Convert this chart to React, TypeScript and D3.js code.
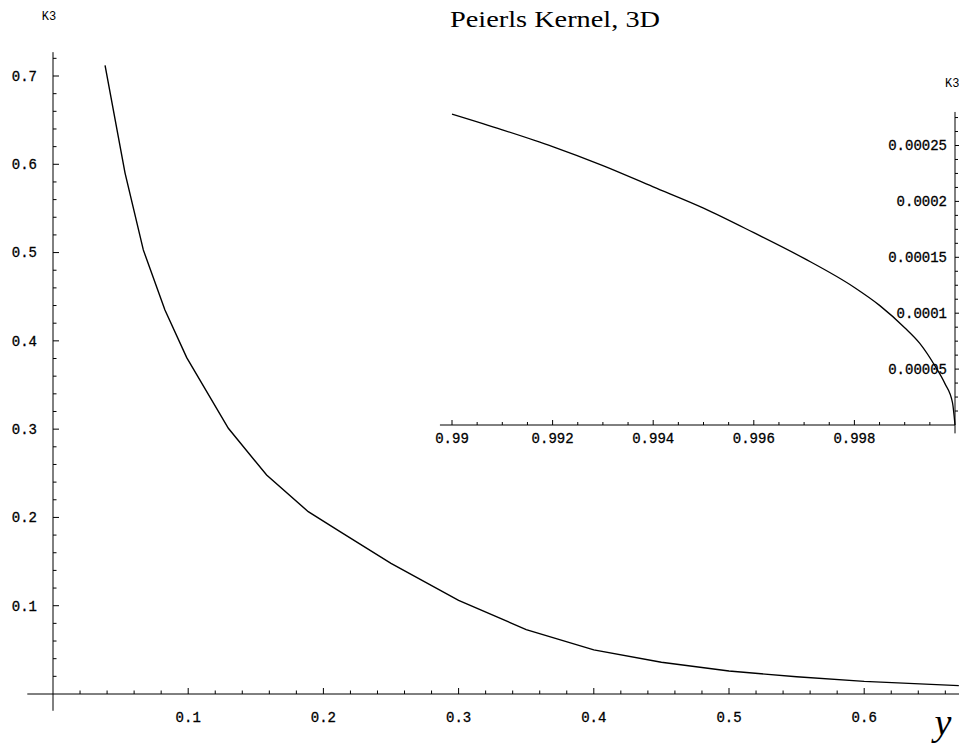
import React from 'react'
import * as d3 from 'd3'

// main curve, K3 against y
const mainY = [0.0385, 0.0533, 0.0668, 0.0828, 0.0989, 0.1297, 0.158, 0.1888, 0.2123, 0.25, 0.3, 0.35, 0.4, 0.45, 0.5, 0.55, 0.6, 0.67]
const mainK = [0.712, 0.59, 0.503, 0.435, 0.381, 0.301, 0.248, 0.2065, 0.184, 0.148, 0.106, 0.073, 0.05, 0.036, 0.026, 0.0195, 0.0143, 0.0095]

// inset near y = 1
const insetY = [0.99, 0.991, 0.992, 0.993, 0.994, 0.995, 0.996, 0.997, 0.998, 0.9985, 0.999, 0.9993, 0.9996, 0.9998, 0.99995, 1.0]
const insetK = [0.000278, 0.000264, 0.000249, 0.000232, 0.000213, 0.000194, 0.000172, 0.000149, 0.000123, 0.000107, 0.000087, 0.000073, 0.000053, 0.000037, 0.00002, 0]

const mainXTicks = [0.1, 0.2, 0.3, 0.4, 0.5, 0.6]
const mainXLabels = ['0.1', '0.2', '0.3', '0.4', '0.5', '0.6']
const mainYTicks = [0.1, 0.2, 0.3, 0.4, 0.5, 0.6, 0.7]
const mainYLabels = ['0.1', '0.2', '0.3', '0.4', '0.5', '0.6', '0.7']
const insetXTicks = [0.99, 0.992, 0.994, 0.996, 0.998]
const insetXLabels = ['0.99', '0.992', '0.994', '0.996', '0.998']
const insetYTicks = [0.00005, 0.0001, 0.00015, 0.0002, 0.00025]
const insetYLabels = ['0.00005', '0.0001', '0.00015', '0.0002', '0.00025']

const W = 959
const H = 746
const mono = "'Liberation Mono', monospace"
const serif = "'Liberation Serif', 'Times New Roman', serif"

export default function App() {
  // main plot scales
  const x = d3.scaleLinear().domain([0, 0.7]).range([53, 999.4])
  const y = d3.scaleLinear().domain([0, 0.7]).range([694, 76])
  // inset scales
  const ix = d3.scaleLinear().domain([0.99, 1.0]).range([452, 955])
  const iy = d3.scaleLinear().domain([0, 0.00025]).range([425, 145.5])

  const mainLine = d3.line<number>()
    .x((_, i) => x(mainY[i]))
    .y(d => y(d))
  const insetLine = d3.line<number>()
    .x((_, i) => ix(insetY[i]))
    .y(d => iy(d))
    .curve(d3.curveMonotoneX)

  const xMinor = d3.range(0.02, 0.7, 0.02).filter(v => Math.abs(v * 10 - Math.round(v * 10)) > 1e-6)
  const yMinor = d3.range(0.02, 0.73, 0.02).filter(v => Math.abs(v * 10 - Math.round(v * 10)) > 1e-6)
  const ixMinor = d3.range(0.9905, 1.0, 0.0005).filter(v => Math.abs(v * 500 - Math.round(v * 500)) > 1e-6)
  const iyMinor = d3.range(0.0000125, 0.00028, 0.0000125).filter(v => Math.abs(v * 20000 - Math.round(v * 20000)) > 1e-6)

  return (
    <svg width={W} height={H} style={{ position: 'absolute', left: 0, top: 0, background: '#fff' }}>
      <rect width={W} height={H} fill="#fff" />

      {/* title */}
      <text x={555} y={27} textAnchor="middle" fontFamily={serif} fontSize={24}
        textLength={210} lengthAdjust="spacingAndGlyphs" fill="#000">Peierls Kernel, 3D</text>

      {/* main axes */}
      <g stroke="#000" strokeWidth={1}>
        <line x1={x(-0.019)} x2={W} y1={y(0)} y2={y(0)} />
        <line x1={x(0)} x2={x(0)} y1={y(-0.019)} y2={y(0.727)} />
        {mainXTicks.map(t => <line key={'mx' + t} x1={x(t)} x2={x(t)} y1={y(0)} y2={y(0) - 6} />)}
        {xMinor.map(t => <line key={'mxm' + t} x1={x(t)} x2={x(t)} y1={y(0)} y2={y(0) - 3.5} />)}
        {mainYTicks.map(t => <line key={'my' + t} x1={x(0)} x2={x(0) + 6} y1={y(t)} y2={y(t)} />)}
        {yMinor.map(t => <line key={'mym' + t} x1={x(0)} x2={x(0) + 3.5} y1={y(t)} y2={y(t)} />)}
      </g>
      <g fontFamily={mono} fontSize={14} fill="#000" stroke="#000" strokeWidth={0.3}>
        {mainXTicks.map((t, i) => (
          <text key={'mxl' + t} x={x(t)} y={722} textAnchor="middle">{mainXLabels[i]}</text>
        ))}
        {mainYTicks.map((t, i) => (
          <text key={'myl' + t} x={37} y={y(t)} dy="0.35em" textAnchor="end">{mainYLabels[i]}</text>
        ))}
      </g>
      <text x={49} y={20} textAnchor="middle" fontFamily={mono} fontSize={12} fill="#000">K3</text>
      <text x={943} y={735} textAnchor="middle" fontFamily={serif} fontStyle="italic" fontSize={38} fill="#000">y</text>

      <path d={mainLine(mainK) ?? ''} fill="none" stroke="#000" strokeWidth={1.4} />

      {/* inset */}
      <g stroke="#000" strokeWidth={1}>
        <line x1={ix(0.98976)} x2={ix(1.0)} y1={iy(0)} y2={iy(0)} />
        <line x1={ix(1.0)} x2={ix(1.0)} y1={iy(-0.0000075)} y2={iy(0.00028)} />
        {insetXTicks.map(t => <line key={'ix' + t} x1={ix(t)} x2={ix(t)} y1={iy(0)} y2={iy(0) - 5} />)}
        {ixMinor.map(t => <line key={'ixm' + t} x1={ix(t)} x2={ix(t)} y1={iy(0)} y2={iy(0) - 3} />)}
        {insetYTicks.map(t => <line key={'iy' + t} x1={ix(1.0)} x2={ix(1.0) + 5} y1={iy(t)} y2={iy(t)} />)}
        {iyMinor.map(t => <line key={'iym' + t} x1={ix(1.0)} x2={ix(1.0) + 3} y1={iy(t)} y2={iy(t)} />)}
      </g>
      <g fontFamily={mono} fontSize={14} fill="#000" stroke="#000" strokeWidth={0.3}>
        {insetXTicks.map((t, i) => (
          <text key={'ixl' + t} x={ix(t)} y={443} textAnchor="middle">{insetXLabels[i]}</text>
        ))}
        {insetYTicks.map((t, i) => (
          <text key={'iyl' + t} x={947} y={iy(t)} dy="0.35em" textAnchor="end">{insetYLabels[i]}</text>
        ))}
      </g>
      <text x={945} y={87} fontFamily={mono} fontSize={12} fill="#000">K3</text>

      <path d={insetLine(insetK) ?? ''} fill="none" stroke="#000" strokeWidth={1.3} />
    </svg>
  )
}
